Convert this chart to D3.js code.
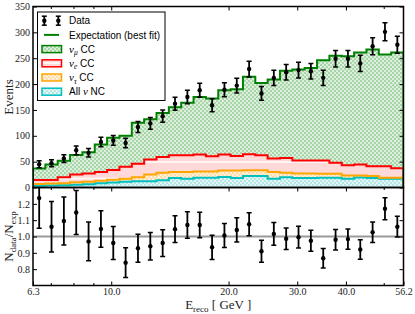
<!DOCTYPE html>
<html>
<head>
<script src="https://cdnjs.cloudflare.com/ajax/libs/d3/7.8.5/d3.min.js"></script>
<style>
body { margin: 0; background: #fff; }
svg text { font-family: "Liberation Serif", "Times New Roman", serif; fill: #222; }
.tick text { font-size: 10px; }
.tick line { stroke: #000; stroke-width: 1; }
.legend text { font-family: "Liberation Sans", Arial, sans-serif; font-size: 10px; fill: #000; }
</style>
</head>
<body>
<svg id="chart" width="415" height="314"></svg>
<script>
// binning (log-spaced reconstructed energy, GeV)
var xMin = 6.3, xMax = 56.2, nBins = 30;

// observed events per bin
var dataCounts = [45, 47, 56, 72, 67, 88, 91, 86, 117, 124, 138, 162, 175, 188, 159,
                  189, 197, 229, 182, 212, 223, 227, 225, 212, 249, 249, 240, 273, 301, 276];
// N_data / N_exp per bin
var ratioValues = [1.235, 1.06, 1.095, 1.147, 0.97, 1.046, 0.96, 0.84, 0.928, 0.94,
                   0.96, 1.045, 1.07, 1.07, 0.934, 1.006, 1.04, 1.075, 0.91, 1.016,
                   0.986, 0.996, 0.974, 0.867, 0.98, 0.984, 0.92, 1.026, 1.17, 1.06];

// expectation components (best fit), stacked
var allNC   = [3.5, 4, 4.5, 5.5, 6.5, 8, 9.5, 11, 12, 12, 14, 18.5, 17, 19, 19,
               20.5, 18.5, 22, 22, 17, 20, 18.5, 18.5, 19, 19, 17, 19.5, 18.5, 17, 17];
var nutauCC = [3.5, 3.5, 3.5, 4.5, 4.5, 5, 5.5, 6, 8, 13, 14.5, 11.5, 13, 12, 12,
               12.5, 14.5, 11.5, 11.5, 13, 8.5, 8.5, 8.5, 7.5, 7.5, 6, 3.5, 3.5, 2, 2];
var nueCC   = [7.5, 7, 12, 15, 16, 17, 19, 23, 26, 29, 30.5, 32.5, 32.5, 33, 29.5,
               31, 28, 31, 29, 26, 28.5, 25, 25, 25.5, 21.5, 20, 21.5, 19, 22, 18];
var numuCC  = [22, 30, 31.5, 38, 41, 53, 62, 60, 79, 78, 85, 92.5, 101.5, 111, 111.5,
               124, 129, 149.5, 139.5, 153, 169, 176, 179, 194, 207, 211, 216.5, 226, 216, 224];

var xTickLabels = [6.3, 10.0, 20.0, 30.0, 40.0, 56.2];
var xMinorTicks = [7, 8, 9, 50];
var eventTicks = [0, 50, 100, 150, 200, 250, 300, 350];
var ratioTicks = [0.8, 0.9, 1.0, 1.1, 1.2];

var svg = d3.select("#chart");

var L = 33, R = 403.5, T1 = 6.5, B1 = 187.5, B2 = 285.5;

var x = d3.scaleLog().domain([xMin, xMax]).range([L, R]);
var yTop = d3.scaleLinear().domain([0, 350]).range([B1, T1]);
var yRat = d3.scaleLinear().domain([0.7, 1.3]).range([B2, B1]);

var edges = d3.range(nBins + 1).map(function(i) { return xMin * Math.pow(xMax / xMin, i / nBins); });
var centers = d3.range(nBins).map(function(i) { return Math.sqrt(edges[i] * edges[i + 1]); });

var rows = d3.range(nBins).map(function(i) {
    return {nc: allNC[i], nutau: nutauCC[i], nue: nueCC[i], numu: numuCC[i]};
});
var stacked = d3.stack().keys(["nc", "nutau", "nue", "numu"])(rows);

// hatch patterns
var defs = svg.append("defs");

function checker(id, light, dark) {
    var p = defs.append("pattern").attr("id", id)
        .attr("patternUnits", "userSpaceOnUse").attr("width", 4).attr("height", 4);
    p.append("rect").attr("width", 4).attr("height", 4).attr("fill", light);
    p.append("rect").attr("width", 2).attr("height", 2).attr("fill", dark);
    p.append("rect").attr("x", 2).attr("y", 2).attr("width", 2).attr("height", 2).attr("fill", dark);
}
checker("hGreen", "#dcefdc", "#a9d6a9");
checker("hOrange", "#fff2dc", "#ffdca8");
checker("hCyan", "#e2f6f6", "#b4e6e6");

var pr = defs.append("pattern").attr("id", "hRed")
    .attr("patternUnits", "userSpaceOnUse").attr("width", 10).attr("height", 16.5);
pr.append("rect").attr("width", 10).attr("height", 16.5).attr("fill", "#ffd8d8");
pr.append("rect").attr("y", 12.8).attr("width", 10).attr("height", 1.5).attr("fill", "#fff");

defs.append("clipPath").attr("id", "clipTop").append("rect")
    .attr("x", L).attr("y", T1).attr("width", R - L).attr("height", B1 - T1);
defs.append("clipPath").attr("id", "clipRat").append("rect")
    .attr("x", L).attr("y", B1).attr("width", R - L).attr("height", B2 - B1);

function stepPoints(layer) {
    var pts = [];
    layer.forEach(function(d, i) {
        pts.push([edges[i], d[1]]);
        pts.push([edges[i + 1], d[1]]);
    });
    return pts;
}

var area = d3.area()
    .x(function(d) { return x(d[0]); })
    .y0(yTop(0))
    .y1(function(d) { return yTop(d[1]); });

var line = d3.line()
    .x(function(d) { return x(d[0]); })
    .y(function(d) { return yTop(d[1]); });

var layers = [
    {s: stacked[3], fill: "url(#hGreen)", stroke: "#008000"},
    {s: stacked[2], fill: "url(#hRed)", stroke: "#ff0000"},
    {s: stacked[1], fill: "url(#hOrange)", stroke: "#ffa500"},
    {s: stacked[0], fill: "url(#hCyan)", stroke: "#00bfbf"}
];

var gTop = svg.append("g").attr("clip-path", "url(#clipTop)");

layers.forEach(function(l) {
    gTop.append("path").attr("d", area(stepPoints(l.s))).attr("fill", l.fill);
});
layers.slice().reverse().forEach(function(l) {
    var pts = stepPoints(l.s);
    pts.unshift([edges[0], 0]);
    pts.push([edges[nBins], 0]);
    gTop.append("path").attr("d", line(pts))
        .attr("fill", "none").attr("stroke", l.stroke).attr("stroke-width", 2);
});

// data points with sqrt(N) errors
function errorBars(g, xs, ys, errs, yScale) {
    xs.forEach(function(cx, i) {
        var px = x(cx);
        var y1 = yScale(ys[i] - errs[i]), y2 = yScale(ys[i] + errs[i]);
        g.append("line").attr("x1", px).attr("x2", px).attr("y1", y1).attr("y2", y2)
            .attr("stroke", "#000").attr("stroke-width", 1.8);
        [y1, y2].forEach(function(yy) {
            g.append("line").attr("x1", px - 2.5).attr("x2", px + 2.5).attr("y1", yy).attr("y2", yy)
                .attr("stroke", "#000").attr("stroke-width", 1.5);
        });
        g.append("circle").attr("cx", px).attr("cy", yScale(ys[i])).attr("r", 2.2).attr("fill", "#000");
    });
}

errorBars(gTop, centers, dataCounts, dataCounts.map(function(n) { return Math.sqrt(n); }), yTop);

// ratio panel
var gRat = svg.append("g").attr("clip-path", "url(#clipRat)");
gRat.append("line").attr("x1", L).attr("x2", R).attr("y1", yRat(1)).attr("y2", yRat(1))
    .attr("stroke", "#999").attr("stroke-width", 2);
errorBars(gRat, centers, ratioValues, ratioValues.map(function(r, i) { return r / Math.sqrt(dataCounts[i]); }), yRat);

// frames
[[T1, B1], [B1, B2]].forEach(function(p) {
    svg.append("rect").attr("x", L).attr("y", p[0]).attr("width", R - L).attr("height", p[1] - p[0])
        .attr("fill", "none").attr("stroke", "#000").attr("stroke-width", 1.5);
});

// axes
function cleanAxis(g) { g.select(".domain").remove(); }

svg.append("g").attr("transform", "translate(" + L + ",0)")
    .call(d3.axisLeft(yTop).tickValues(eventTicks).tickSize(-4).tickPadding(3).tickFormat(d3.format("d")))
    .call(cleanAxis);
svg.append("g").attr("transform", "translate(" + R + ",0)")
    .call(d3.axisRight(yTop).tickValues(eventTicks).tickSize(-4).tickFormat(""))
    .call(cleanAxis);
svg.append("g").attr("transform", "translate(" + L + ",0)")
    .call(d3.axisLeft(yRat).tickValues(ratioTicks).tickSize(-4).tickPadding(3).tickFormat(d3.format(".1f")))
    .call(cleanAxis);
svg.append("g").attr("transform", "translate(" + R + ",0)")
    .call(d3.axisRight(yRat).tickValues(ratioTicks).tickSize(-4).tickFormat(""))
    .call(cleanAxis);

var majorX = xTickLabels.slice(1, -1);
[T1, B1].forEach(function(yy) {
    svg.append("g").attr("transform", "translate(0," + yy + ")")
        .call(d3.axisTop(x).tickValues(majorX).tickSize(-4).tickFormat(""))
        .call(cleanAxis);
    svg.append("g").attr("transform", "translate(0," + yy + ")")
        .call(d3.axisTop(x).tickValues(xMinorTicks).tickSize(-2.5).tickFormat(""))
        .call(cleanAxis);
});
svg.append("g").attr("transform", "translate(0," + B2 + ")")
    .call(d3.axisBottom(x).tickValues(xTickLabels).tickSize(-4).tickPadding(2).tickFormat(d3.format(".1f")))
    .call(cleanAxis);
svg.append("g").attr("transform", "translate(0," + B2 + ")")
    .call(d3.axisBottom(x).tickValues(xMinorTicks).tickSize(-2.5).tickFormat(""))
    .call(cleanAxis);

// axis labels
svg.append("text").attr("transform", "translate(13," + ((T1 + B1) / 2) + ") rotate(-90)")
    .attr("text-anchor", "middle").style("font-size", "13px").text("Events");

var rl = svg.append("text").attr("transform", "translate(13," + ((B1 + B2) / 2) + ") rotate(-90)")
    .attr("text-anchor", "middle").style("font-size", "13px");
rl.append("tspan").text("N");
rl.append("tspan").attr("dy", 3).style("font-size", "9px").text("data");
rl.append("tspan").attr("dy", -3).text("/N");
rl.append("tspan").attr("dy", 3).style("font-size", "9px").text("exp");

var xl = svg.append("text").attr("x", (L + R) / 2).attr("y", 308.5)
    .attr("text-anchor", "middle").style("font-size", "13px");
xl.append("tspan").text("E");
xl.append("tspan").attr("dy", 3).style("font-size", "9px").text("reco");
xl.append("tspan").attr("dy", -3).text(" [ GeV ]");

// legend
var lg = svg.append("g").attr("class", "legend");
lg.append("rect").attr("x", 37.5).attr("y", 12).attr("width", 127.5).attr("height", 88.5)
    .attr("fill", "#fff").attr("stroke", "#000").attr("stroke-width", 1);

var ly = function(i) { return 20.7 + i * 14.2; };

[44.3, 58.3].forEach(function(px) {
    var yy = ly(0);
    lg.append("line").attr("x1", px).attr("x2", px).attr("y1", yy - 4.5).attr("y2", yy + 4.5)
        .attr("stroke", "#000").attr("stroke-width", 1.8);
    [yy - 4.5, yy + 4.5].forEach(function(cy) {
        lg.append("line").attr("x1", px - 2.5).attr("x2", px + 2.5).attr("y1", cy).attr("y2", cy)
            .attr("stroke", "#000").attr("stroke-width", 1.5);
    });
    lg.append("circle").attr("cx", px).attr("cy", yy).attr("r", 2.2).attr("fill", "#000");
});
lg.append("line").attr("x1", 44).attr("x2", 59).attr("y1", ly(1)).attr("y2", ly(1))
    .attr("stroke", "#008000").attr("stroke-width", 2);

layers.forEach(function(l, i) {
    lg.append("rect").attr("x", 42).attr("y", ly(i + 2) - 3.5).attr("width", 19.5).attr("height", 7)
        .attr("fill", l.fill).attr("stroke", l.stroke).attr("stroke-width", 1.5);
});

function lt(i) { return lg.append("text").attr("x", 69).attr("y", ly(i) + 3.6); }
lt(0).text("Data");
lt(1).text("Expectation (best fit)");

function nuLabel(i, sub, rest) {
    var t = lt(i);
    t.append("tspan").style("font-family", "Liberation Serif, serif").style("font-style", "italic")
        .style("font-size", "11px").text("\u03bd");
    t.append("tspan").attr("dy", 2.5).style("font-family", "Liberation Serif, serif")
        .style("font-style", "italic").style("font-size", "7.5px").text(sub);
    t.append("tspan").attr("dy", -2.5).text(" " + rest);
}
nuLabel(2, "\u03bc", "CC");
nuLabel(3, "e", "CC");
nuLabel(4, "\u03c4", "CC");
var ncText = lt(5);
ncText.append("tspan").text("All ");
ncText.append("tspan").style("font-family", "Liberation Serif, serif").style("font-style", "italic")
    .style("font-size", "11px").text("\u03bd");
ncText.append("tspan").text(" NC");
</script>
</body>
</html>
